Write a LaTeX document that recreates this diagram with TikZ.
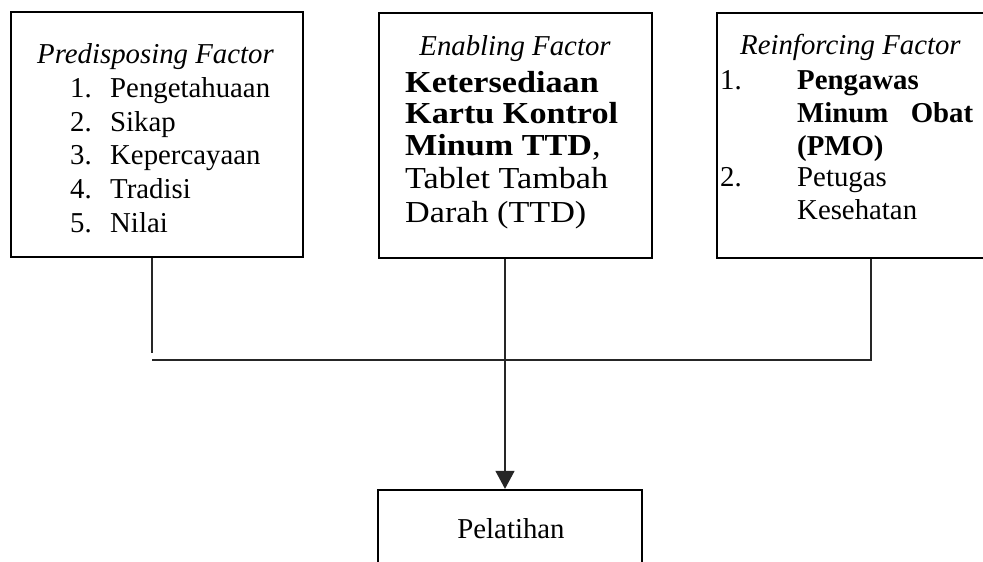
\documentclass[tikz,border=0pt]{standalone}
\usepackage{graphicx}
\usepackage{fontspec}
\setmainfont{Liberation Serif}
\usetikzlibrary{arrows.meta}
\newcommand{\widen}[1]{\scalebox{1.12}[1]{#1}}
\begin{document}
\begin{tikzpicture}[x=1pt,y=-1pt,
  frame/.style={draw=black,line width=2.3pt,rectangle,inner sep=0pt},
  conn/.style={draw=black!85,line width=1.3pt},
  txt/.style={anchor=base west,inner sep=0pt,font=\fontsize{28.8pt}{33.5pt}\selectfont},
  midtxt/.style={anchor=base west,inner sep=0pt,font=\fontsize{30.5pt}{33.5pt}\selectfont},
  ctxt/.style={anchor=base,inner sep=0pt,font=\fontsize{28.8pt}{33.5pt}\selectfont}
]
\useasboundingbox (0,0) rectangle (983,562);
\clip (0,0) rectangle (983,562);
\fill[white] (0,0) rectangle (983,562);
% boxes
\node[frame,minimum width=292pt,minimum height=245pt] (pre) at (157,134.5) {};
\node[frame,minimum width=273pt,minimum height=245pt] (ena) at (515.5,135.5) {};
\node[frame,minimum width=278pt,minimum height=245pt] (rei) at (856,135.5) {};
\node[frame,minimum width=264pt,minimum height=120pt] (pel) at (510,550) {};
% left texts
\node[txt] (p0) at (37,63) {\itshape Predisposing Factor};
\node[txt] (p1n) at (70,97) {1.};
\node[txt] (p1) at (110,97) {Pengetahuaan};
\node[txt] (p2n) at (70,131) {2.};
\node[txt] (p2) at (110,131) {Sikap};
\node[txt] (p3n) at (70,164) {3.};
\node[txt] (p3) at (110,164) {Kepercayaan};
\node[txt] (p4n) at (70,198) {4.};
\node[txt] (p4) at (110,198) {Tradisi};
\node[txt] (p5n) at (70,232) {5.};
\node[txt] (p5) at (110,232) {Nilai};
% middle texts
\node[ctxt] (e0) at (515,55) {\itshape Enabling Factor};
\node[midtxt] (e1) at (405,92) {\widen{\bfseries Ketersediaan}};
\node[midtxt] (e2) at (405,123) {\widen{\bfseries Kartu Kontrol}};
\node[midtxt] (e3) at (405,155) {\widen{\textbf{Minum TTD},}};
\node[midtxt] (e4) at (405,188) {\widen{Tablet Tambah}};
\node[midtxt] (e5) at (405,222) {\widen{Darah (TTD)}};
% right texts
\node[txt] (r0) at (740,54) {\itshape Reinforcing Factor};
\node[txt] (r1n) at (720,89) {1.};
\node[txt] (r1) at (797,89) {\bfseries Pengawas};
\node[txt] (r2) at (797,122) {\bfseries\hbox to 176pt{Minum\hfill Obat}};
\node[txt] (r3) at (797,155) {\bfseries (PMO)};
\node[txt] (r4n) at (720,186) {2.};
\node[txt] (r4) at (797,186) {Petugas};
\node[txt] (r5) at (797,219) {Kesehatan};
% bottom text
\node[ctxt] (b0) at (511,538) {Pelatihan};
% connectors
\coordinate (lx) at (152,0);
\coordinate (lend) at (152,353);
\coordinate (hl) at (152,360);
\coordinate (hr) at (871,360);
\coordinate (mx) at (505,0);
\draw[conn] (pre.south -| lx) -- (lend);
\draw[conn] (hl) -- (hr) -- (rei.south -| hr);
\draw[conn,-{Triangle[length=18pt,width=19pt]}] (ena.south -| mx) -- (pel.north -| mx);
\end{tikzpicture}
\end{document}
